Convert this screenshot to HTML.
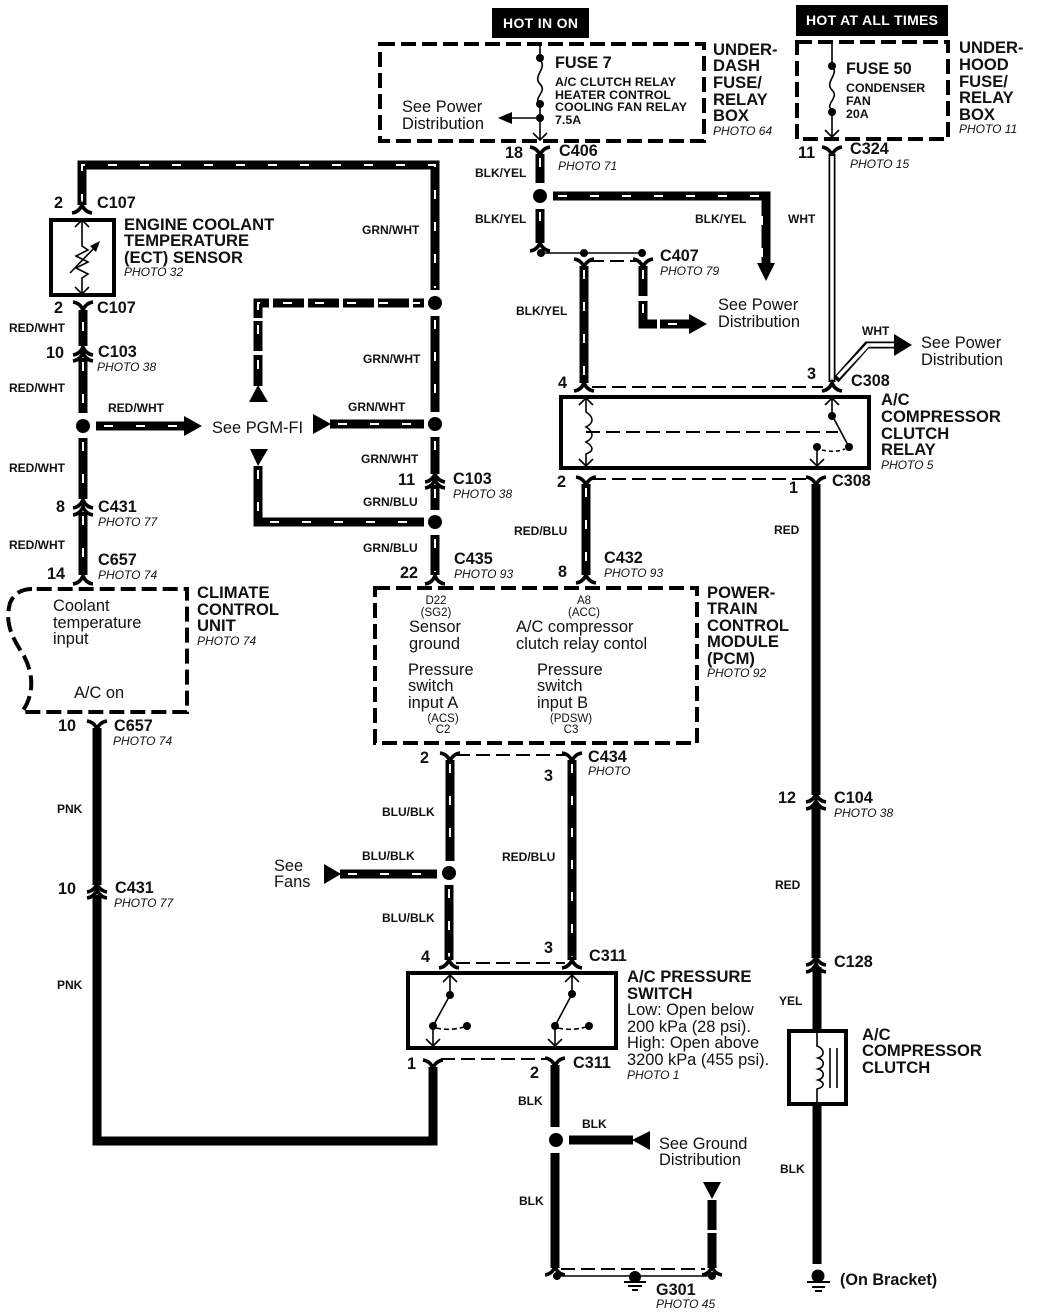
<!DOCTYPE html>
<html><head><meta charset="utf-8"><style>
html,body{margin:0;padding:0;background:#fff}
svg{display:block}
text{font-family:"Liberation Sans",sans-serif;fill:#111}
.t{font-size:16.6px;font-weight:700}
.c{font-size:16.2px;font-weight:700}
.l{font-size:12px;font-weight:700}
.p{font-size:12px;font-style:italic}
.n{font-size:16.4px}
.f{font-size:12.4px;font-weight:700}
.q{font-size:11.5px}
.h{font-size:14px;font-weight:700;fill:#fff}
.w{stroke:#000;stroke-width:9;fill:none}
.s{stroke:#fff;stroke-width:2;stroke-dasharray:9 23;fill:none}
.d{stroke:#000;stroke-width:4;stroke-dasharray:15 6;fill:none}
.g{stroke:#000;stroke-width:2;stroke-dasharray:14 6;fill:none}
.k{stroke:#000;stroke-width:4;fill:none}
.o{stroke:#000;stroke-width:1.6;fill:none}
.m{stroke:#000;stroke-width:3.6;fill:none}
</style></head><body>
<svg width="1040" height="1313" viewBox="0 0 1040 1313" xmlns="http://www.w3.org/2000/svg">
<defs>
<path id="u" class="m" d="M-10,5 Q-3,4 0,-3 Q3,4 10,5"/>
<path id="v" class="m" d="M-10,-5 Q-3,-4 0,3 Q3,-4 10,-5"/>
</defs>
<!-- hot bars -->
<rect x="492" y="8" width="97" height="30" fill="#000"/><text class="h" x="503" y="28" textLength="75">HOT IN ON</text>
<rect x="796" y="5" width="152" height="31" fill="#000"/><text class="h" x="806" y="25" textLength="132">HOT AT ALL TIMES</text>
<!-- fuse boxes -->
<rect class="d" x="380" y="44" width="324" height="97"/>
<rect class="d" x="797" y="42" width="151" height="97"/>
<path class="o" d="M540,44V60C548,68 532,76 540,84C548,92 532,98 540,104V140M533,133L540,140L547,133"/>
<circle cx="540" cy="58" r="4"/><circle cx="540" cy="104" r="4"/><circle cx="540" cy="118" r="4"/>
<path class="o" d="M540,118H510"/><path d="M498,118L512,112V124Z"/>
<path class="o" d="M832,44V66C840,74 824,82 832,90C840,98 824,104 832,110V137M825,130L832,137L839,130"/>
<circle cx="832" cy="66" r="4"/><circle cx="832" cy="112" r="4"/>
<text class="n" x="402" y="112">See Power</text><text class="n" x="402" y="129">Distribution</text>
<text class="c" x="555" y="68">FUSE 7</text>
<text class="f" x="555" y="86" textLength="121">A/C CLUTCH RELAY</text><text class="f" x="555" y="99" textLength="116">HEATER CONTROL</text><text class="f" x="555" y="111" textLength="132">COOLING FAN RELAY</text><text class="f" x="555" y="124">7.5A</text>
<text class="t" x="713" y="55">UNDER-</text><text class="t" x="713" y="71">DASH</text><text class="t" x="713" y="88">FUSE/</text><text class="t" x="713" y="105">RELAY</text><text class="t" x="713" y="121">BOX</text><text class="p" x="713" y="135">PHOTO 64</text>
<text class="c" x="846" y="74">FUSE 50</text>
<text class="f" x="846" y="92">CONDENSER</text><text class="f" x="846" y="105">FAN</text><text class="f" x="846" y="118">20A</text>
<text class="t" x="959" y="53">UNDER-</text><text class="t" x="959" y="70">HOOD</text><text class="t" x="959" y="87">FUSE/</text><text class="t" x="959" y="103">RELAY</text><text class="t" x="959" y="120">BOX</text><text class="p" x="959" y="133">PHOTO 11</text>
<!-- C406 region -->
<use href="#v" x="540" y="152"/>
<path class="w" d="M540,154V183"/><path class="s" d="M540,158V183"/>
<circle cx="540" cy="196" r="7"/>
<path class="w" d="M553,196H766V264"/><path class="s" d="M558,196H762V262"/><path d="M757,263H775L766,281Z"/>
<path class="w" d="M540,209V243"/><path class="s" d="M540,212V240"/><use href="#u" x="540" y="246"/>
<path class="o" d="M541,253H642"/><circle cx="541" cy="253" r="4"/><circle cx="584" cy="253" r="4"/><circle cx="642" cy="253" r="4"/>
<use href="#v" x="584" y="264"/><use href="#v" x="643" y="264"/>
<path class="g" d="M590,261H636"/>
<path class="w" d="M584,266V383"/><path class="s" d="M584,270V380"/><use href="#u" x="584" y="386"/>
<path class="w" d="M643,266V296"/><path class="s" d="M643,270V294"/>
<path class="w" d="M643,301V324H657"/><path class="s" d="M643,304V320"/>
<path class="w" d="M660,324H690"/><path class="s" d="M668,324H682"/><path d="M689,314L707,324L689,334Z"/>
<text class="n" x="718" y="310">See Power</text><text class="n" x="718" y="327">Distribution</text>
<text class="c" x="505" y="158">18</text><text class="c" x="559" y="156">C406</text><text class="p" x="558" y="170">PHOTO 71</text>
<text class="c" x="660" y="261">C407</text><text class="p" x="660" y="275">PHOTO 79</text>
<text class="l" x="475" y="177">BLK/YEL</text><text class="l" x="475" y="223">BLK/YEL</text><text class="l" x="695" y="223">BLK/YEL</text><text class="l" x="516" y="315">BLK/YEL</text>
<!-- white wire -->
<use href="#v" x="832" y="152"/>
<path stroke="#000" stroke-width="7" fill="none" d="M832,154V382"/><path stroke="#fff" stroke-width="3.5" fill="none" d="M832,156V380"/>
<path stroke="#000" stroke-width="7" fill="none" d="M836,380L867,345H897"/><path stroke="#fff" stroke-width="3.5" fill="none" d="M838,377L868,345H899"/>
<path d="M894,334L912,345L894,356Z"/>
<use href="#u" x="832" y="386"/>
<text class="c" x="798" y="158">11</text><text class="c" x="850" y="154">C324</text><text class="p" x="850" y="168">PHOTO 15</text>
<text class="l" x="788" y="223">WHT</text><text class="l" x="862" y="335">WHT</text>
<text class="n" x="921" y="348">See Power</text><text class="n" x="921" y="365">Distribution</text>
<path class="g" d="M592,387H823"/>
<text class="c" x="558" y="388">4</text><text class="c" x="807" y="379">3</text><text class="c" x="851" y="386">C308</text>
<!-- relay -->
<rect x="561" y="397" width="308" height="71" fill="none" stroke="#000" stroke-width="4"/>
<path class="o" d="M586,398V412C594,417 594,423 586,427C594,432 594,438 586,442C594,447 594,451 586,454V466M579,405L586,398L593,405M579,459L586,466L593,459"/>
<path class="g" d="M586,432H838"/>
<path class="o" d="M832,398V415L849,447M825,405L832,398L839,405"/>
<circle cx="832" cy="416" r="4"/><circle cx="849" cy="447" r="4"/><circle cx="817" cy="447" r="4"/>
<path class="o" d="M817,447V466M810,459L817,466L824,459" /><path class="o" stroke-dasharray="4 3" d="M822,450Q835,453 845,449"/>
<text class="t" x="881" y="405">A/C</text><text class="t" x="881" y="422">COMPRESSOR</text><text class="t" x="881" y="439">CLUTCH</text><text class="t" x="881" y="455">RELAY</text><text class="p" x="881" y="469">PHOTO 5</text>
<!-- below relay -->
<use href="#v" x="586" y="482"/><use href="#v" x="816" y="482"/>
<path class="g" d="M592,479H808"/>
<path class="w" d="M586,484V575"/><path class="s" d="M586,488V572"/><use href="#u" x="586" y="578"/>
<text class="c" x="557" y="487">2</text><text class="c" x="789" y="493">1</text><text class="c" x="832" y="486">C308</text>
<text class="l" x="514" y="535">RED/BLU</text><text class="l" x="774" y="534">RED</text>
<text class="c" x="558" y="577">8</text><text class="c" x="604" y="563">C432</text><text class="p" x="604" y="577">PHOTO 93</text>
<path class="w" d="M816,484V795"/><use href="#u" x="816" y="797"/><use href="#u" x="816" y="804"/>
<path class="w" d="M816,804V958"/><use href="#u" x="816" y="960"/><use href="#u" x="816" y="967"/>
<path class="w" d="M817,967V1264"/>
<text class="c" x="778" y="803">12</text><text class="c" x="834" y="803">C104</text><text class="p" x="834" y="817">PHOTO 38</text>
<text class="l" x="775" y="889">RED</text><text class="c" x="834" y="967">C128</text><text class="l" x="779" y="1005">YEL</text>
<rect x="789" y="1031" width="57" height="73" fill="#fff" stroke="#000" stroke-width="4"/>
<path class="o" d="M817,1033V1046C825,1049 825,1056 818,1058C825,1060 825,1067 818,1069C825,1071 825,1078 818,1080C825,1082 825,1087 817,1089V1102"/><path class="o" d="M830,1048V1088M837,1048V1088"/>
<text class="t" x="862" y="1040">A/C</text><text class="t" x="862" y="1056">COMPRESSOR</text><text class="t" x="862" y="1073">CLUTCH</text>
<text class="l" x="780" y="1173">BLK</text>
<circle cx="818" cy="1276" r="6.5"/><path stroke="#000" stroke-width="2" d="M807,1282H830M812,1287H825M815,1291H822"/>
<text class="c" x="840" y="1285">(On Bracket)</text>
<!-- left column -->
<path class="w" d="M82,205V165H435V290"/><path class="s" d="M82,203V165H435V288"/>
<use href="#u" x="82" y="208"/>
<text class="c" x="54" y="208">2</text><text class="c" x="97" y="208">C107</text>
<rect x="51" y="220" width="63" height="75" fill="none" stroke="#000" stroke-width="4"/>
<path class="o" d="M82,220V246L88,250L76,256L88,262L76,268L88,274L82,278V294M75,227L82,220L89,227M75,287L82,294L89,287M70,273L97,245"/><path d="M100,241L90,246L96,252Z"/>
<text class="t" x="124" y="230">ENGINE COOLANT</text><text class="t" x="124" y="246">TEMPERATURE</text><text class="t" x="124" y="263">(ECT) SENSOR</text><text class="p" x="124" y="276">PHOTO 32</text>
<use href="#v" x="83" y="307"/>
<text class="c" x="54" y="313">2</text><text class="c" x="97" y="313">C107</text>
<path class="w" d="M83,310V346"/><path class="s" d="M83,322V344"/><use href="#u" x="83" y="350"/><use href="#u" x="83" y="356"/>
<path class="w" d="M83,358V413"/><path class="s" d="M83,362V410"/>
<circle cx="83" cy="426" r="7"/>
<path class="w" d="M83,438V499"/><path class="s" d="M83,442V497"/><use href="#u" x="83" y="503"/><use href="#u" x="83" y="510"/>
<path class="w" d="M83,512V575"/><path class="s" d="M83,516V572"/><use href="#u" x="83" y="579"/>
<text class="l" x="9" y="332">RED/WHT</text><text class="l" x="9" y="392">RED/WHT</text><text class="l" x="9" y="472">RED/WHT</text><text class="l" x="9" y="549">RED/WHT</text>
<text class="c" x="46" y="358">10</text><text class="c" x="98" y="357">C103</text><text class="p" x="97" y="371">PHOTO 38</text>
<text class="c" x="56" y="512">8</text><text class="c" x="98" y="512">C431</text><text class="p" x="98" y="526">PHOTO 77</text>
<text class="c" x="47" y="579">14</text><text class="c" x="98" y="565">C657</text><text class="p" x="98" y="579">PHOTO 74</text>
<path class="w" d="M96,426H186"/><path class="s" d="M104,426H182"/><path d="M184,416L202,426L184,436Z"/>
<text class="l" x="108" y="412">RED/WHT</text>
<text class="n" x="212" y="433">See PGM-FI</text>
<!-- right of left -->
<circle cx="435" cy="303" r="7"/>
<path class="w" d="M424,303H258V318"/><path class="s" d="M420,303H258V316"/>
<path stroke="#fff" stroke-width="4" d="M411,298V308M376,298V308M341,298V308M306,298V308M271,298V308"/>
<path class="w" d="M258,321V351"/><path class="s" d="M258,325V348"/><path class="w" d="M258,355V386"/><path class="s" d="M258,360V384"/>
<path d="M249,402H268L258,385Z"/>
<path class="w" d="M435,316V412"/><path class="s" d="M435,320V410"/>
<circle cx="435" cy="424" r="7"/>
<path class="w" d="M330,424H424"/><path class="s" d="M338,424H420"/><path d="M313,414L331,424L313,434Z"/>
<path class="w" d="M435,437V474"/><path class="s" d="M435,441V472"/><use href="#u" x="435" y="477"/><use href="#u" x="435" y="483"/>
<path class="w" d="M435,485V510"/><path class="s" d="M435,489V508"/>
<circle cx="435" cy="522" r="7"/>
<path d="M250,449H268L258,466Z"/>
<path class="w" d="M258,466V522H424"/><path class="s" d="M258,470V522H420"/>
<path class="w" d="M435,535V575"/><path class="s" d="M435,539V572"/><use href="#u" x="435" y="579"/>
<text class="l" x="362" y="234">GRN/WHT</text><text class="l" x="363" y="363">GRN/WHT</text><text class="l" x="348" y="411">GRN/WHT</text><text class="l" x="361" y="463">GRN/WHT</text><text class="l" x="363" y="506">GRN/BLU</text><text class="l" x="363" y="552">GRN/BLU</text>
<text class="c" x="398" y="485">11</text><text class="c" x="453" y="484">C103</text><text class="p" x="453" y="498">PHOTO 38</text>
<text class="c" x="400" y="578">22</text><text class="c" x="454" y="564">C435</text><text class="p" x="454" y="578">PHOTO 93</text>
<!-- climate -->
<path class="d" d="M32,589Q16,589 10,603C4,625 14,640 24,656C34,675 34,695 22,712H187V589H32"/>
<text class="n" x="53" y="611">Coolant</text><text class="n" x="53" y="628">temperature</text><text class="n" x="53" y="644">input</text><text class="n" x="74" y="698">A/C on</text>
<text class="t" x="197" y="598">CLIMATE</text><text class="t" x="197" y="615">CONTROL</text><text class="t" x="197" y="631">UNIT</text><text class="p" x="197" y="645">PHOTO 74</text>
<use href="#v" x="97" y="726"/>
<path class="w" d="M97,728V885"/><use href="#u" x="97" y="887"/><use href="#u" x="97" y="893"/>
<path class="w" d="M97,895V1141H433V1067"/><use href="#v" x="433" y="1065"/>
<text class="c" x="58" y="731">10</text><text class="c" x="114" y="731">C657</text><text class="p" x="113" y="745">PHOTO 74</text>
<text class="l" x="57" y="813">PNK</text><text class="c" x="58" y="894">10</text><text class="c" x="115" y="893">C431</text><text class="p" x="114" y="907">PHOTO 77</text><text class="l" x="57" y="989">PNK</text>
<!-- PCM -->
<rect class="d" x="375" y="588" width="322" height="155"/>
<text class="q" x="436" y="604" text-anchor="middle">D22</text><text class="q" x="436" y="616" text-anchor="middle">(SG2)</text><text class="q" x="584" y="604" text-anchor="middle">A8</text><text class="q" x="584" y="616" text-anchor="middle">(ACC)</text>
<text class="q" x="443" y="722" text-anchor="middle">(ACS)</text><text class="q" x="443" y="733" text-anchor="middle">C2</text><text class="q" x="571" y="722" text-anchor="middle">(PDSW)</text><text class="q" x="571" y="733" text-anchor="middle">C3</text>
<text class="n" x="409" y="632">Sensor</text><text class="n" x="409" y="649">ground</text><text class="n" x="516" y="632">A/C compressor</text><text class="n" x="516" y="649">clutch relay contol</text>
<text class="n" x="408" y="675">Pressure</text><text class="n" x="408" y="691">switch</text><text class="n" x="408" y="708">input A</text><text class="n" x="537" y="675">Pressure</text><text class="n" x="537" y="691">switch</text><text class="n" x="537" y="708">input B</text>
<text class="t" x="707" y="598">POWER-</text><text class="t" x="707" y="614">TRAIN</text><text class="t" x="707" y="631">CONTROL</text><text class="t" x="707" y="647">MODULE</text><text class="t" x="707" y="664">(PCM)</text><text class="p" x="707" y="677">PHOTO 92</text>
<!-- C434 -->
<use href="#v" x="450" y="758"/><use href="#v" x="572" y="758"/><path class="g" d="M456,755H565"/>
<path class="w" d="M450,760V861"/><path class="s" d="M450,764V858"/><circle cx="449" cy="873" r="7"/>
<path class="w" d="M449,885V960"/><path class="s" d="M449,889V957"/><use href="#u" x="449" y="963"/>
<path class="w" d="M572,760V960"/><path class="s" d="M572,764V957"/><use href="#u" x="572" y="963"/>
<path class="g" d="M456,963H565"/>
<path class="w" d="M340,874H437"/><path class="s" d="M348,874H432"/><path d="M324,864L341,874L324,884Z"/>
<text class="c" x="420" y="763">2</text><text class="c" x="544" y="781">3</text><text class="c" x="588" y="762">C434</text><text class="p" x="588" y="775">PHOTO</text>
<text class="l" x="382" y="816">BLU/BLK</text><text class="l" x="362" y="860">BLU/BLK</text><text class="l" x="382" y="922">BLU/BLK</text><text class="l" x="502" y="861">RED/BLU</text>
<text class="n" x="274" y="871">See</text><text class="n" x="274" y="887">Fans</text>
<text class="c" x="421" y="962">4</text><text class="c" x="544" y="953">3</text><text class="c" x="589" y="961">C311</text>
<!-- pressure switch -->
<rect x="408" y="973" width="208" height="75" fill="none" stroke="#000" stroke-width="4"/>
<path class="o" d="M450,975V995L433,1026V1046M443,982L450,975L457,982M426,1039L433,1046L440,1039"/>
<path class="o" d="M572,975V994L555,1026V1046M565,982L572,975L579,982M548,1039L555,1046L562,1039"/>
<circle cx="450" cy="995" r="4"/><circle cx="433" cy="1026" r="4"/><circle cx="467" cy="1026" r="4"/><circle cx="572" cy="994" r="4"/><circle cx="555" cy="1026" r="4"/><circle cx="589" cy="1026" r="4"/>
<path class="o" stroke-dasharray="5 3" d="M436,1028Q450,1031 464,1027M558,1028Q572,1031 586,1027"/>
<text class="t" x="627" y="982">A/C PRESSURE</text><text class="t" x="627" y="999">SWITCH</text>
<text class="n" x="627" y="1015">Low: Open below</text><text class="n" x="627" y="1032">200 kPa (28 psi).</text><text class="n" x="627" y="1048">High: Open above</text><text class="n" x="627" y="1065">3200 kPa (455 psi).</text><text class="p" x="627" y="1079">PHOTO 1</text>
<use href="#v" x="555" y="1063"/><path class="g" d="M441,1059H548"/>
<path class="w" d="M555,1065V1127"/><circle cx="556" cy="1140" r="7"/><path class="w" d="M555,1153V1268"/><use href="#u" x="555" y="1270"/>
<path class="w" d="M569,1140H633"/><path d="M650,1131L632,1140L650,1150Z"/>
<text class="c" x="407" y="1069">1</text><text class="c" x="530" y="1078">2</text><text class="c" x="573" y="1068">C311</text>
<text class="l" x="518" y="1105">BLK</text><text class="l" x="582" y="1128">BLK</text><text class="l" x="519" y="1205">BLK</text>
<text class="n" x="659" y="1149">See Ground</text><text class="n" x="659" y="1165">Distribution</text>
<path d="M703,1182H721L712,1199Z"/>
<path class="w" d="M712,1200V1230"/><path class="w" d="M712,1233V1268"/><use href="#u" x="712" y="1270"/>
<path class="g" d="M561,1269H705"/>
<path class="o" d="M557,1276H712"/><circle cx="557" cy="1276" r="4"/><circle cx="712" cy="1276" r="4"/>
<circle cx="635" cy="1277" r="6"/><path stroke="#000" stroke-width="2" d="M624,1282H646M628,1286H642M632,1290H638"/>
<text class="c" x="656" y="1295">G301</text><text class="p" x="656" y="1308">PHOTO 45</text>
</svg>
</body></html>
